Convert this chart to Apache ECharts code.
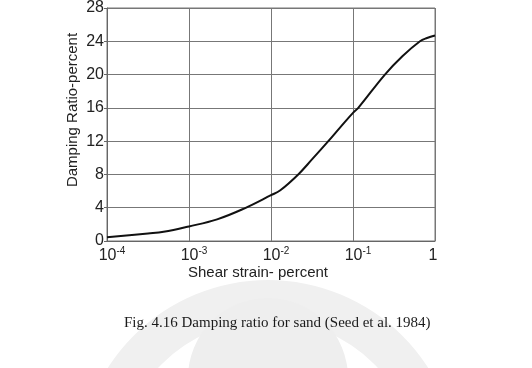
<!DOCTYPE html>
<html>
<head>
<meta charset="utf-8">
<script src="https://cdn.jsdelivr.net/npm/echarts@6/dist/echarts.min.js"></script>
<style>
  html, body { margin: 0; padding: 0; background: #fff; }
  #chart { width: 532px; height: 368px; }
</style>
</head>
<body>
<div id="chart"></div>
<script>
// shear strain (percent) and damping ratio (percent)
const strain = [0.0001, 0.000316, 0.00049, 0.001, 0.0022, 0.0047, 0.01, 0.013, 0.0215,
  0.0316, 0.05, 0.069, 0.1, 0.116, 0.245, 0.4, 0.656, 0.8, 1];
const damping = [0.45, 0.9, 1.1, 1.75, 2.6, 3.9, 5.5, 6.1, 8.0,
  9.8, 12, 13.6, 15.4, 16, 20, 22.2, 24, 24.4, 24.7];
const yTicks = [0, 4, 8, 12, 16, 20, 24, 28];

const points = strain.map((s, i) => [s, damping[i]]);

const chart = echarts.init(document.getElementById('chart'));
chart.setOption({
  animation: false,
  title: {
    text: 'Fig. 4.16 Damping ratio for sand (Seed et al. 1984)',
    left: 119,
    top: 311,
    textStyle: { fontFamily: 'Liberation Serif', fontSize: 15, fontWeight: 'normal', color: '#1a1a1a' }
  },
  grid: { left: 107, right: 97, top: 8, bottom: 127 },
  xAxis: {
    type: 'log',
    logBase: 10,
    min: 0.0001,
    max: 1,
    axisLine: { show: true, lineStyle: { color: '#666', width: 1 } },
    axisTick: { show: false },
    minorTick: { show: false },
    splitLine: { show: true, lineStyle: { color: '#777', width: 1 } },
    axisLabel: {
      margin: 5,
      padding: [0, 0, 0, 10],
      formatter: function (v) {
        const e = Math.round(Math.log10(v));
        return e === 0 ? '{c|1}' : '{b|10}{s|' + e + '}';
      },
      rich: {
        b: { fontFamily: 'Liberation Sans', fontSize: 16, color: '#222', lineHeight: 19 },
        c: { fontFamily: 'Liberation Sans', fontSize: 16, color: '#222', lineHeight: 19, padding: [0, 14, 0, 0] },
        s: { fontFamily: 'Liberation Sans', fontSize: 10, color: '#222', verticalAlign: 'top', lineHeight: 19, padding: [0, 0, 8, 0] }
      }
    }
  },
  yAxis: {
    type: 'value',
    min: yTicks[0],
    max: yTicks[yTicks.length - 1],
    interval: 4,
    axisLine: { show: true, lineStyle: { color: '#666', width: 1 } },
    axisTick: { show: true, length: 3, lineStyle: { color: '#666' } },
    splitLine: { show: true, lineStyle: { color: '#777', width: 1 } },
    axisLabel: { margin: 3, fontFamily: 'Liberation Sans', fontSize: 16, color: '#222' }
  },
  graphic: [
    // faint watermark behind the caption
    {
      type: 'sector', z: -10, silent: true,
      shape: { cx: 268, cy: 470, r0: 150, r: 190, startAngle: Math.PI, endAngle: Math.PI * 2 },
      style: { fill: '#f0f0f0' }
    },
    {
      type: 'circle', z: -9, silent: true,
      shape: { cx: 268, cy: 378, r: 80 },
      style: { fill: '#eeeeee' }
    },
    {
      type: 'rect', silent: true,
      shape: { x: 107, y: 8, width: 328, height: 233 },
      style: { fill: 'none', stroke: '#777', lineWidth: 1 }
    },
    {
      type: 'text', silent: true,
      x: 73, y: 110, rotation: Math.PI / 2,
      style: {
        text: 'Damping Ratio-percent', align: 'center', verticalAlign: 'middle',
        font: '15px "Liberation Sans"', fill: '#222'
      }
    },
    {
      type: 'text', silent: true,
      x: 258, y: 273,
      style: {
        text: 'Shear strain- percent', align: 'center', verticalAlign: 'middle',
        font: '15px "Liberation Sans"', fill: '#222'
      }
    }
  ],
  series: [{
    type: 'line',
    data: points,
    smooth: 0.4,
    showSymbol: false,
    lineStyle: { color: '#111', width: 2 }
  }]
});
</script>
</body>
</html>
